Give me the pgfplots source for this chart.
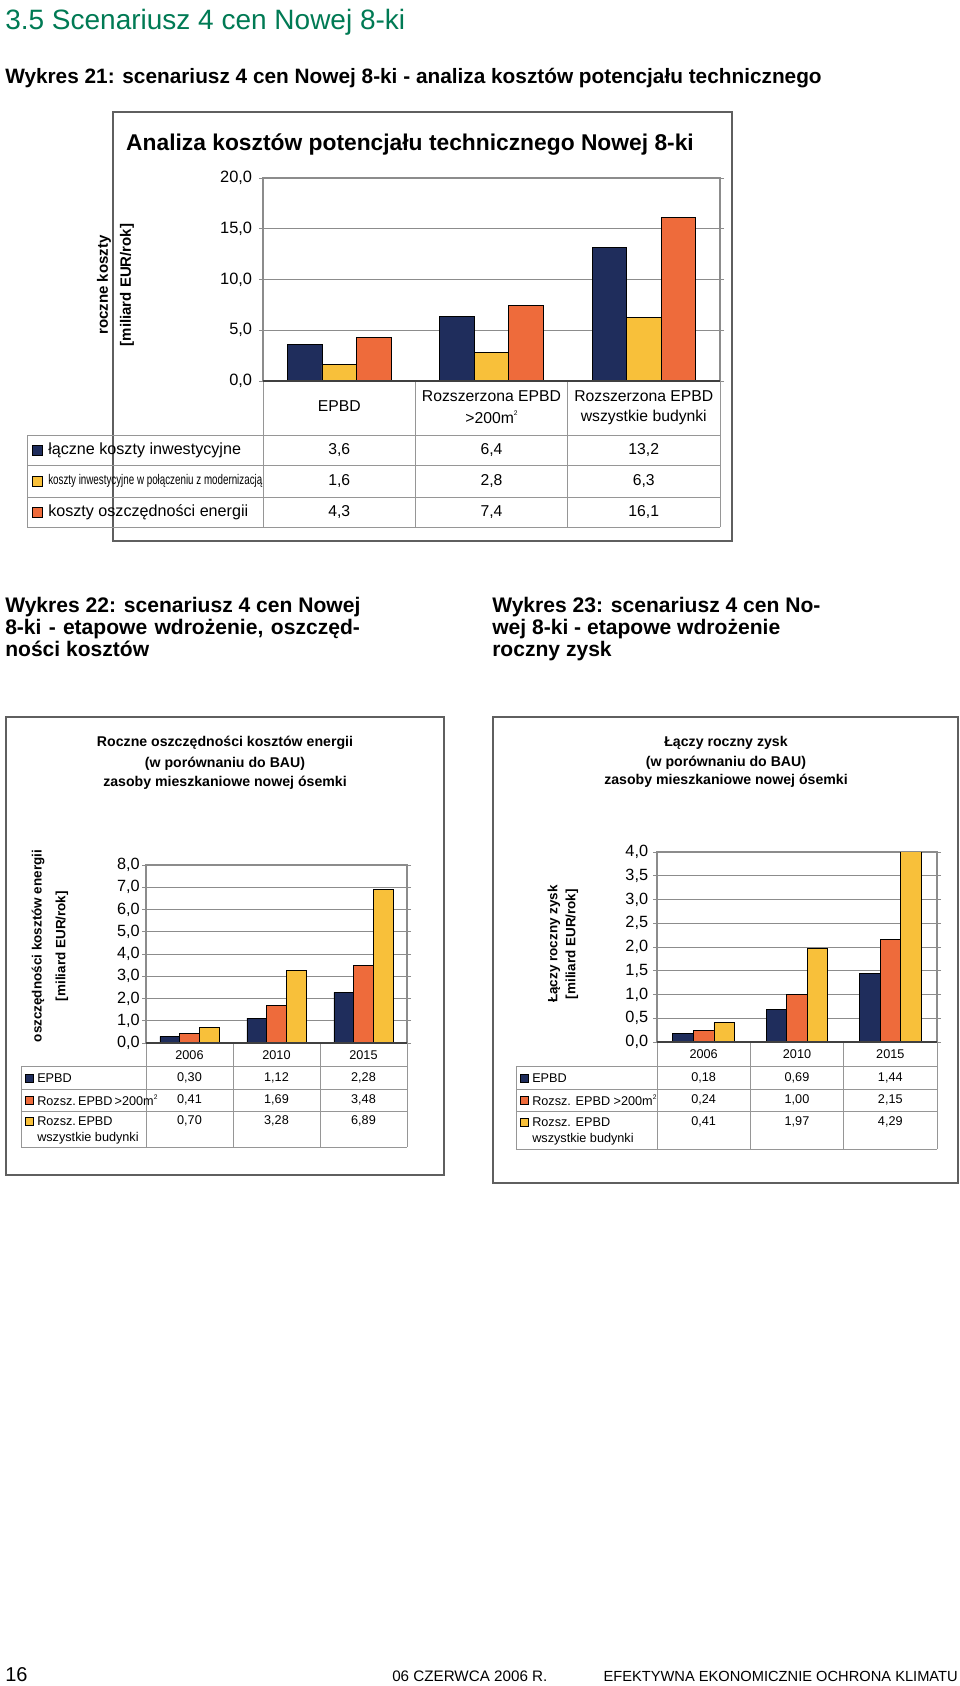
\documentclass[border=0pt]{standalone}
\usepackage{fontspec}
\setmainfont{Liberation Sans}
\usepackage{graphicx}
\usepackage{pgfplots}
\pgfplotsset{compat=1.18}

\definecolor{navy}{RGB}{31,45,92}
\definecolor{gold}{RGB}{248,192,58}
\definecolor{tang}{RGB}{238,107,59}
\definecolor{headgreen}{RGB}{0,122,84}
\definecolor{gridgray}{RGB}{140,140,140}
\definecolor{framegray}{RGB}{95,95,95}
\definecolor{tabgray}{RGB}{150,150,150}

\newcommand\fs[1]{\fontsize{#1}{#1}\selectfont}
\newcommand\sq{\raisebox{0.9ex}{\fontsize{5pt}{5pt}\selectfont 2}}

% common look of the three Excel-style bar charts
\pgfplotsset{
  xlsbar/.style={
    anchor=south west, scale only axis,
    ybar=0pt, xmin=-0.5, xmax=2.5, ymin=0,
    xtick=\empty,
    ymajorgrids, grid style={gridgray, line width=0.6pt},
    axis line style={gridgray, line width=0.8pt},
    tick align=outside, major tick length=3pt,
    ytick style={gridgray, line width=0.6pt},
    every axis plot/.append style={draw=black, line width=0.6pt},
  },
}

\begin{document}
\begin{tikzpicture}[x=0.75pt,y=-0.75pt]
\path[use as bounding box, fill=white] (0,0) rectangle (960,1686);

% ---------- page headings ----------
\node[anchor=base west, inner sep=0, text=headgreen, font=\fs{21pt}] at (5,29) {3.5 Scenariusz 4 cen Nowej 8-ki};
\node[anchor=base west, inner sep=0, font=\bfseries\fs{15.6pt}] at (5,83)
  {Wykres 21: scenariusz 4 cen Nowej 8-ki - analiza kosztów potencjału technicznego};

% ---------- Wykres 21 ----------
\draw[framegray, line width=1.1pt] (113,112) rectangle (732,541);
\node[anchor=base, inner sep=0, font=\bfseries\fs{17.1pt}] at (410,150.5)
  {Analiza kosztów potencjału technicznego Nowej 8-ki};
\node[rotate=90, inner sep=0, font=\bfseries\fs{11.25pt}] at (104,285) {roczne koszty};
\node[rotate=90, inner sep=0, font=\bfseries\fs{11.25pt}] at (127,285) {[miliard EUR/rok]};

\begin{axis}[xlsbar,
  at={(197.25pt,-285.75pt)}, width=342.75pt, height=152.25pt,
  bar width=25.9pt, ymax=20, ytick={0,5,10,15,20},
  yticklabels={{0,0},{5,0},{10,0},{15,0},{20,0}},
  yticklabel style={font=\fs{12.3pt}, inner xsep=5pt},
]
\addplot[fill=navy] coordinates {(0,3.6) (1,6.4) (2,13.2)};
\addplot[fill=gold] coordinates {(0,1.6) (1,2.8) (2,6.3)};
\addplot[fill=tang] coordinates {(0,4.3) (1,7.4) (2,16.1)};
\end{axis}

\begin{scope}[tabgray, line width=0.7pt]
  \foreach \yy in {435,465,497,527} \draw (27,\yy) -- (720,\yy);
  \draw (27,435) -- (27,527);
  \foreach \xx in {263,415.3,567.7,720} \draw (\xx,381) -- (\xx,527);
\end{scope}
\draw[black!75, line width=0.9pt] (263,381) -- (720,381);

\begin{scope}[font=\fs{11.8pt}, inner sep=0]
  \node at (339.2,406) {EPBD};
  \node at (491.5,396) {Rozszerzona EPBD};
  \node at (491.5,417) {>200m\sq};
  \node at (643.8,396) {Rozszerzona EPBD};
  \node at (643.8,417) {wszystkie budynki};
\end{scope}

\begin{scope}[inner sep=0]
  \draw[black, line width=0.5pt, fill=navy] (32,445) rectangle (42,455);
  \draw[black, line width=0.5pt, fill=gold] (32,476) rectangle (42,486);
  \draw[black, line width=0.5pt, fill=tang] (32,507) rectangle (42,517);
  \node[anchor=west, font=\fs{12.1pt}] at (48,450) {łączne koszty inwestycyjne};
  \node[anchor=west, font=\fs{10.5pt}] at (48,481)
    {\scalebox{0.70}[1]{koszty inwestycyjne w połączeniu z modernizacją}};
  \node[anchor=west, font=\fs{12.1pt}] at (48,512) {koszty oszczędności energii};
\end{scope}
\begin{scope}[font=\fs{11.8pt}, inner sep=0]
  \node at (339.2,450) {3,6};  \node at (491.5,450) {6,4};  \node at (643.8,450) {13,2};
  \node at (339.2,481) {1,6};  \node at (491.5,481) {2,8};  \node at (643.8,481) {6,3};
  \node at (339.2,512) {4,3};  \node at (491.5,512) {7,4};  \node at (643.8,512) {16,1};
\end{scope}

% ---------- Wykres 22 / 23 headings ----------
\begin{scope}[font=\bfseries\fs{15.8pt}, inner sep=0]
  \node[anchor=base west] at (5,612) {Wykres 22: scenariusz 4 cen Nowej};
  \node[anchor=base west] at (5,634) {\makebox[266pt][s]{8-ki - etapowe wdrożenie, oszczęd-}};
  \node[anchor=base west] at (5,656) {ności kosztów};
  \node[anchor=base west] at (492,612) {Wykres 23: scenariusz 4 cen No-};
  \node[anchor=base west] at (492,634) {wej 8-ki - etapowe wdrożenie};
  \node[anchor=base west] at (492,656) {roczny zysk};
\end{scope}

% ---------- Wykres 22 ----------
\draw[framegray, line width=1.1pt] (6,717) rectangle (444,1175);
\begin{scope}[font=\bfseries\fs{10.6pt}, inner sep=0]
  \node at (225,743) {Roczne oszczędności kosztów energii};
  \node at (225,764) {(w porównaniu do BAU)};
  \node at (225,783) {zasoby mieszkaniowe nowej ósemki};
  \node[rotate=90, font=\bfseries\fs{10.1pt}] at (38,946) {oszczędności kosztów energii};
  \node[rotate=90, font=\bfseries\fs{10.1pt}] at (62,946) {[miliard EUR/rok]};
\end{scope}

\begin{axis}[xlsbar,
  at={(109.5pt,-782.25pt)}, width=195.75pt, height=133.5pt,
  bar width=14.8pt, ymax=8, ytick={0,1,...,8},
  yticklabels={{0,0},{1,0},{2,0},{3,0},{4,0},{5,0},{6,0},{7,0},{8,0}},
  yticklabel style={font=\fs{12.2pt}, inner xsep=1.5pt},
]
\addplot[fill=navy] coordinates {(0,0.30) (1,1.12) (2,2.28)};
\addplot[fill=tang] coordinates {(0,0.41) (1,1.69) (2,3.48)};
\addplot[fill=gold] coordinates {(0,0.70) (1,3.28) (2,6.89)};
\end{axis}

\begin{scope}[tabgray, line width=0.7pt]
  \foreach \yy in {1066,1089,1111,1147} \draw (21,\yy) -- (407,\yy);
  \draw (21,1066) -- (21,1147);
  \foreach \xx in {146,233,320,407} \draw (\xx,1043) -- (\xx,1147);
\end{scope}
\draw[black!75, line width=0.9pt] (146,1043) -- (407,1043);

\begin{scope}[font=\fs{9.5pt}, inner sep=0]
  \node at (189.5,1055) {2006}; \node at (276.5,1055) {2010}; \node at (363.5,1055) {2015};
  \draw[black, line width=0.4pt, fill=navy] (25,1074) rectangle (33,1082);
  \draw[black, line width=0.4pt, fill=tang] (25,1096) rectangle (33,1104);
  \draw[black, line width=0.4pt, fill=gold] (25,1117) rectangle (33,1125);
  \node[anchor=west] at (37,1078) {EPBD};
  \node[anchor=west] at (37,1100) {Rozsz.\,EPBD\,>200m\sq};
  \node[anchor=west] at (37,1121) {Rozsz.\,EPBD};
  \node[anchor=west] at (37,1138) {wszystkie budynki};
  \node at (189.5,1078) {0,30}; \node at (276.5,1078) {1,12}; \node at (363.5,1078) {2,28};
  \node at (189.5,1100) {0,41}; \node at (276.5,1100) {1,69}; \node at (363.5,1100) {3,48};
  \node at (189.5,1121) {0,70}; \node at (276.5,1121) {3,28}; \node at (363.5,1121) {6,89};
\end{scope}

% ---------- Wykres 23 ----------
\draw[framegray, line width=1.1pt] (493,717) rectangle (958,1183);
\begin{scope}[font=\bfseries\fs{10.6pt}, inner sep=0]
  \node at (726,743) {Łączy roczny zysk};
  \node at (726,763) {(w porównaniu do BAU)};
  \node at (726,781) {zasoby mieszkaniowe nowej ósemki};
  \node[rotate=90, font=\bfseries\fs{10.1pt}] at (554,944) {Łączy roczny zysk};
  \node[rotate=90, font=\bfseries\fs{10.1pt}] at (572,944) {[miliard EUR/rok]};
\end{scope}

\begin{axis}[xlsbar,
  at={(492.75pt,-781.5pt)}, width=210pt, height=142.5pt,
  bar width=15.4pt, ymax=4, ytick={0,0.5,...,4},
  yticklabels={{0,0},{0,5},{1,0},{1,5},{2,0},{2,5},{3,0},{3,5},{4,0}},
  yticklabel style={font=\fs{12.2pt}, inner xsep=3.5pt},
]
\addplot[fill=navy] coordinates {(0,0.18) (1,0.69) (2,1.44)};
\addplot[fill=tang] coordinates {(0,0.24) (1,1.00) (2,2.15)};
\addplot[fill=gold] coordinates {(0,0.41) (1,1.97) (2,4.29)};
\end{axis}

\begin{scope}[tabgray, line width=0.7pt]
  \foreach \yy in {1066,1089,1111,1149} \draw (516,\yy) -- (937,\yy);
  \draw (516,1066) -- (516,1149);
  \foreach \xx in {657,750.3,843.7,937} \draw (\xx,1042) -- (\xx,1149);
\end{scope}
\draw[black!75, line width=0.9pt] (657,1042) -- (937,1042);

\begin{scope}[font=\fs{9.5pt}, inner sep=0]
  \node at (703.7,1054) {2006}; \node at (797,1054) {2010}; \node at (890.3,1054) {2015};
  \draw[black, line width=0.4pt, fill=navy] (520,1074) rectangle (528,1082);
  \draw[black, line width=0.4pt, fill=tang] (520,1096) rectangle (528,1104);
  \draw[black, line width=0.4pt, fill=gold] (520,1118) rectangle (528,1126);
  \node[anchor=west] at (532,1078) {EPBD};
  \node[anchor=west] at (532,1100) {Rozsz. EPBD >200m\sq};
  \node[anchor=west] at (532,1122) {Rozsz. EPBD};
  \node[anchor=west] at (532,1139) {wszystkie budynki};
  \node at (703.7,1078) {0,18}; \node at (797,1078) {0,69}; \node at (890.3,1078) {1,44};
  \node at (703.7,1100) {0,24}; \node at (797,1100) {1,00}; \node at (890.3,1100) {2,15};
  \node at (703.7,1122) {0,41}; \node at (797,1122) {1,97}; \node at (890.3,1122) {4,29};
\end{scope}

% ---------- footer ----------
\node[anchor=base west, inner sep=0, font=\fs{15pt}] at (5,1681) {16};
\node[anchor=base west, inner sep=0, font=\fs{11.4pt}] at (392,1681) {06 CZERWCA 2006 R.};
\node[anchor=base east, inner sep=0, font=\fs{11pt}] at (958,1681) {EFEKTYWNA EKONOMICZNIE OCHRONA KLIMATU};
\end{tikzpicture}
\end{document}
